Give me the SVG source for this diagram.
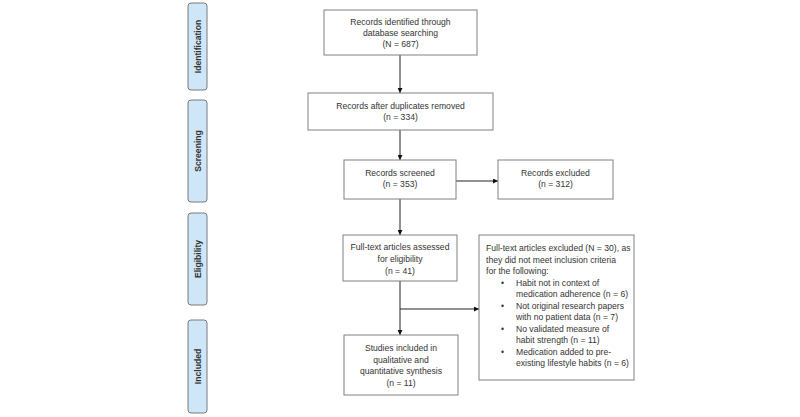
<svg xmlns="http://www.w3.org/2000/svg" width="800" height="417" viewBox="0 0 800 417">
<style>
.box{fill:#fff;stroke:#808080;stroke-width:1}
.side{fill:#cfe6f8;stroke:#7a7a7a;stroke-width:1}
.t{font-family:"Liberation Sans",Arial,sans-serif;font-size:8.6px;fill:#333;text-anchor:middle}
.tl{font-family:"Liberation Sans",Arial,sans-serif;font-size:8.6px;fill:#333}
.st{font-family:"Liberation Sans",Arial,sans-serif;font-size:8.6px;font-weight:bold;fill:#333;text-anchor:middle}
.c{stroke:#222;stroke-width:1;fill:none}
</style>
<defs>
<marker id="ah" viewBox="0 0 10 10" refX="10" refY="5" markerWidth="5" markerHeight="5" orient="auto" markerUnits="userSpaceOnUse">
<path d="M0,0 L10,5 L0,10 z" fill="#111"/>
</marker>
</defs>
<rect width="800" height="417" fill="#fff"/>
<g id="stage-identification"><rect class="side" x="188" y="3" width="19" height="87" rx="3"/><text class="st" transform="translate(200.5,46.5) rotate(-90)">Identification</text></g>
<g id="stage-screening"><rect class="side" x="188" y="100" width="19" height="102" rx="3"/><text class="st" transform="translate(200.5,151) rotate(-90)">Screening</text></g>
<g id="stage-eligibility"><rect class="side" x="188" y="213" width="19" height="92" rx="3"/><text class="st" transform="translate(200.5,259) rotate(-90)">Eligibility</text></g>
<g id="stage-included"><rect class="side" x="188" y="320" width="19" height="93" rx="3"/><text class="st" transform="translate(200.5,366.5) rotate(-90)">Included</text></g>
<g id="connectors">
<line class="c" x1="400" y1="55" x2="400" y2="93" marker-end="url(#ah)"/>
<line class="c" x1="400" y1="130" x2="400" y2="160" marker-end="url(#ah)"/>
<line class="c" x1="456" y1="181" x2="498" y2="181" marker-end="url(#ah)"/>
<line class="c" x1="400" y1="199" x2="400" y2="235" marker-end="url(#ah)"/>
<line class="c" x1="400" y1="281" x2="400" y2="335" marker-end="url(#ah)"/>
<line class="c" x1="400" y1="309" x2="479" y2="309" marker-end="url(#ah)"/>
</g>
<g id="identified"><rect class="box" x="324" y="10" width="153" height="45"/>
<text class="t" x="400.5" y="25">Records identified through</text>
<text class="t" x="400.5" y="36">database searching</text>
<text class="t" x="400.5" y="47">(N = 687)</text></g>
<g id="deduplicated"><rect class="box" x="308" y="93" width="185" height="37"/>
<text class="t" x="400.5" y="109">Records after duplicates removed</text>
<text class="t" x="400.5" y="120">(n = 334)</text></g>
<g id="screened"><rect class="box" x="344" y="160" width="112" height="39"/>
<text class="t" x="400" y="176">Records screened</text>
<text class="t" x="400" y="187">(n = 353)</text></g>
<g id="excluded"><rect class="box" x="498" y="160" width="115" height="39"/>
<text class="t" x="555.5" y="176">Records excluded</text>
<text class="t" x="555.5" y="187">(n = 312)</text></g>
<g id="fulltext"><rect class="box" x="343" y="235" width="114" height="46"/>
<text class="t" x="400" y="250">Full-text articles assessed</text>
<text class="t" x="400" y="262">for eligibility</text>
<text class="t" x="400" y="274">(n = 41)</text></g>
<g id="included"><rect class="box" x="344" y="335" width="114" height="60"/>
<text class="t" x="401" y="351">Studies included in</text>
<text class="t" x="401" y="362.5">qualitative and</text>
<text class="t" x="401" y="374">quantitative synthesis</text>
<text class="t" x="401" y="385.5">(n = 11)</text></g>
<g id="fulltext-excluded"><rect class="box" x="479" y="235" width="155" height="145"/>
<text class="tl" x="486" y="251">Full-text articles excluded (N = 30), as</text>
<text class="tl" x="486" y="262.5">they did not meet inclusion criteria</text>
<text class="tl" x="486" y="274">for the following:</text>
<text class="tl" x="501" y="285.5">•</text><text class="tl" x="516" y="285.5">Habit not in context of</text>
<text class="tl" x="516" y="297">medication adherence (n = 6)</text>
<text class="tl" x="501" y="308.5">•</text><text class="tl" x="516" y="308.5">Not original research papers</text>
<text class="tl" x="516" y="320">with no patient data (n = 7)</text>
<text class="tl" x="501" y="331.5">•</text><text class="tl" x="516" y="331.5">No validated measure of</text>
<text class="tl" x="516" y="343">habit strength (n = 11)</text>
<text class="tl" x="501" y="354.5">•</text><text class="tl" x="516" y="354.5">Medication added to pre-</text>
<text class="tl" x="516" y="366">existing lifestyle habits (n = 6)</text></g>
</svg>
